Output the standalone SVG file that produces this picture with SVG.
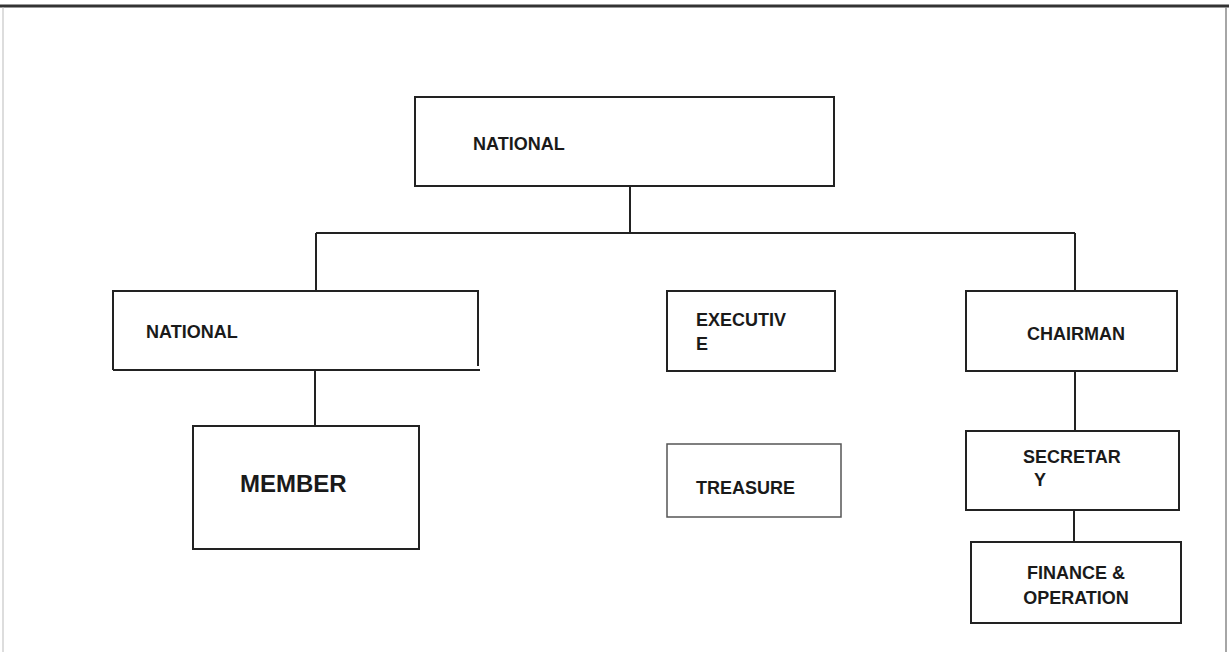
<svg xmlns="http://www.w3.org/2000/svg" width="1229" height="659" viewBox="0 0 1229 659">
<style>
.box{fill:#fff;stroke:#222;stroke-width:2}
.thin{fill:#fff;stroke:#555;stroke-width:1.5}
.ln{fill:none;stroke:#222;stroke-width:2}
.t{font-family:"Liberation Sans",Arial,sans-serif;font-weight:bold;font-size:18px;fill:#1a1a1a}
.big{font-size:24px}
</style>
<rect x="0" y="0" width="1229" height="659" fill="#fff"/>
<g id="frame">
<line x1="0" y1="6" x2="1229" y2="6" stroke="#333" stroke-width="3"/>
<line x1="3" y1="7" x2="3" y2="652" stroke="#bbb" stroke-width="1"/>
<line x1="1226" y1="7" x2="1226" y2="652" stroke="#888" stroke-width="1.5"/>
</g>
<g id="connectors">
<path class="ln" d="M630 186 V233 M316 233 H1075 M316 233 V291 M1075 233 V291 M315 370 V426 M1075 371 V431 M1074 510 V542"/>
</g>
<g id="national-top">
<rect class="box" x="415" y="97" width="419" height="89"/>
<text class="t" x="473" y="150">NATIONAL</text>
</g>
<g id="national-left">
<path class="box" d="M113 370 V291 H478 V366"/>
<line class="ln" x1="113" y1="370" x2="480" y2="370"/>
<text class="t" x="146" y="338">NATIONAL</text>
</g>
<g id="member">
<rect class="box" x="193" y="426" width="226" height="123"/>
<text class="t big" x="240" y="492">MEMBER</text>
</g>
<g id="executive">
<rect class="box" x="667" y="291" width="168" height="80"/>
<text class="t" x="696" y="326">EXECUTIV</text>
<text class="t" x="696" y="350">E</text>
</g>
<g id="chairman">
<rect class="box" x="966" y="291" width="211" height="80"/>
<text class="t" x="1076" y="340" text-anchor="middle">CHAIRMAN</text>
</g>
<g id="treasure">
<rect class="thin" x="667" y="444" width="174" height="73"/>
<text class="t" x="696" y="494">TREASURE</text>
</g>
<g id="secretary">
<rect class="box" x="966" y="431" width="213" height="79"/>
<text class="t" x="1023" y="463">SECRETAR</text>
<text class="t" x="1034" y="486">Y</text>
</g>
<g id="finance">
<rect class="box" x="971" y="542" width="210" height="81"/>
<text class="t" x="1076" y="579" text-anchor="middle">FINANCE &amp;</text>
<text class="t" x="1076" y="604" text-anchor="middle">OPERATION</text>
</g>
</svg>
